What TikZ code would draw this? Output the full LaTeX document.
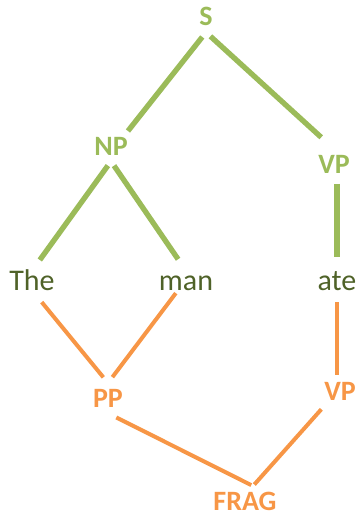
\documentclass[tikz,border=0pt]{standalone}
\usepackage{fontspec}
\setmainfont{Carlito}
\usepackage{tikz}
\usetikzlibrary{positioning}

\definecolor{treegreen}{HTML}{9BBB59}
\definecolor{treeorange}{HTML}{F79646}
\definecolor{wordcol}{HTML}{4F6228}

\begin{document}
\begin{tikzpicture}[x=0.75pt, y=-0.75pt,
		cat/.style={anchor=base, font=\fontsize{21}{25}\selectfont\bfseries,
			inner xsep=0pt, inner ysep=4.5pt, text height=13.3pt, text depth=0pt},
		word/.style={anchor=base, font=\fontsize{22.5}{27}\selectfont, text=wordcol,
			inner sep=0pt, text height=14.2pt, text depth=0pt},
		upper/.style={draw=treegreen, line width=4pt},
		lower/.style={draw=treeorange, line width=3pt}]
		
		\useasboundingbox (0,0) rectangle (359,517);
		
		%------------------------------------------------
		% Words
		%------------------------------------------------
		\node [word] (the) at (32, 290) {The};
		\node [word] (man) at (186, 290) {man};
		\node [word] (ate) at (337, 290) {ate};
		
		%------------------------------------------------
		% Phrase structure above
		%------------------------------------------------
		\node [cat, text=treegreen] (s)   at (206, 26)  {S};
		\node [cat, text=treegreen] (np)  at (111, 155) {NP};
		\node [cat, text=treegreen] (vp1) at (334, 173) {VP};
		
		%------------------------------------------------
		% Fragment structure below
		%------------------------------------------------
		\node [cat, text=treeorange] (pp)   at (108, 407) {PP};
		\node [cat, text=treeorange] (vp2)  at (340, 400) {VP};
		\node [cat, text=treeorange] (frag) at (245, 510) {FRAG};
		
		%------------------------------------------------
		% Edges
		%------------------------------------------------
		\draw [upper, shorten <=4.5pt] (s.south) -- (np.north east);
		\draw [upper, shorten <=4.5pt, shorten >=13pt] (s.south) -- (vp1.north);
		\draw [upper, shorten <=4pt, shorten >=10pt] (np.south) -- (the.north);
		\draw [upper, shorten <=4pt, shorten >=10.5pt] (np.south) -- (man.north);
		\draw [upper, shorten <=3.5pt, shorten >=10pt] (ate.north |- vp1.south) -- (ate.north);
		
		\draw [lower, shorten <=11.5pt, shorten >=5.5pt] (the.south) -- (pp.north);
		\draw [lower, shorten <=2.7pt, shorten >=5.5pt] ([xshift=-6pt]man.south) -- (pp.north);
		\draw [lower, shorten <=9pt, shorten >=1pt] (ate.south) -- (ate.south |- vp2.north);
		\draw [lower, shorten <=7pt, shorten >=1.5pt] (pp.south) -- ([xshift=6pt]frag.north);
		\draw [lower, shorten <=3pt, shorten >=1.5pt] (vp2.south west) -- ([xshift=6pt]frag.north);
		
	\end{tikzpicture}
\end{document}
